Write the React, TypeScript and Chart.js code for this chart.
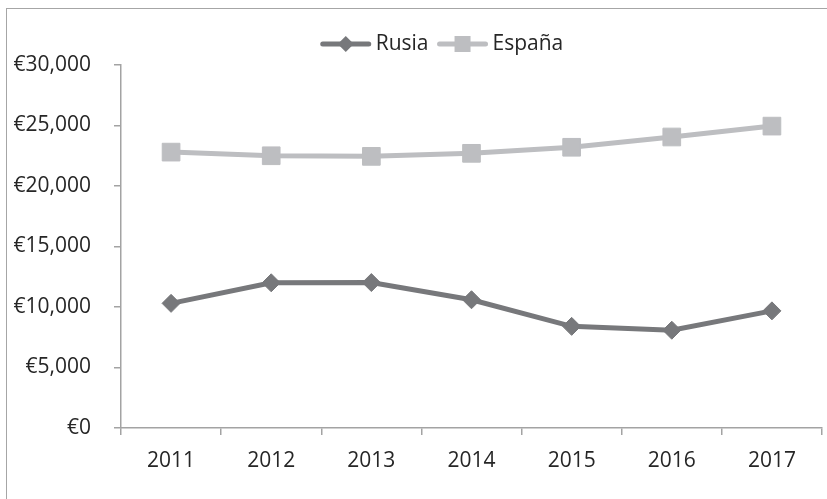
import React, { useEffect, useRef } from "react";
import { Chart, registerables } from "chart.js";

Chart.register(...registerables);

const years = ["2011", "2012", "2013", "2014", "2015", "2016", "2017"];
const rusia = [10300, 12000, 12020, 10600, 8400, 8080, 9680];
const espana = [22800, 22500, 22450, 22700, 23200, 24050, 24950];
const seriesNames = ["Rusia", "España"];
const yMin = 0;
const yMax = 30000;
const yStep = 5000;

const FONT = "'Open Sans', 'Liberation Sans', sans-serif";
const TEXT = "#262626";
const AXIS = "#a3a3a3";
const DARK = "#77787b";
const LIGHT = "#bdbec1";

const legendPlugin = {
  id: "excelLegend",
  afterDraw(chart: any) {
    const ctx = chart.ctx;
    ctx.save();
    ctx.font = `21px ${FONT}`;
    ctx.textBaseline = "middle";
    const y = 44;
    const lineLen = 50;
    const gapText = 5;
    const gapItem = 9;
    const items = chart.data.datasets.map((ds: any) => ({
      ds,
      w: lineLen + gapText + ctx.measureText(ds.label).width,
    }));
    const total = items.reduce((a: number, it: any) => a + it.w, 0) + gapItem * (items.length - 1);
    let x = 442 - total / 2;
    items.forEach((it: any) => {
      const ds = it.ds;
      ctx.strokeStyle = ds.borderColor;
      ctx.lineWidth = 5;
      ctx.lineCap = "round";
      ctx.beginPath();
      ctx.moveTo(x + 2, y);
      ctx.lineTo(x + lineLen - 2, y);
      ctx.stroke();
      const cx = x + lineLen / 2;
      ctx.fillStyle = ds.pointBackgroundColor;
      ctx.beginPath();
      if (ds.pointStyle === "rectRot") {
        const r = 8;
        ctx.moveTo(cx - r, y);
        ctx.lineTo(cx, y - r);
        ctx.lineTo(cx + r, y);
        ctx.lineTo(cx, y + r);
        ctx.closePath();
      } else {
        const h = 8;
        ctx.rect(cx - h, y - h, 2 * h, 2 * h);
      }
      ctx.fill();
      ctx.fillStyle = TEXT;
      ctx.textAlign = "left";
      ctx.fillText(ds.label, x + lineLen + gapText, y);
      x += it.w + gapItem;
    });
    ctx.restore();
  },
};

export default function App() {
  const ref = useRef<HTMLCanvasElement>(null);
  useEffect(() => {
    if (!ref.current) return;
    const chart = new Chart(ref.current, {
      type: "line",
      data: {
        labels: years,
        datasets: [
          {
            label: seriesNames[0],
            data: rusia,
            borderColor: DARK,
            backgroundColor: DARK,
            pointBackgroundColor: DARK,
            pointBorderColor: DARK,
            borderWidth: 5,
            pointStyle: "rectRot",
            pointRadius: 9,
            pointBorderWidth: 1,
            tension: 0,
          },
          {
            label: seriesNames[1],
            data: espana,
            borderColor: LIGHT,
            backgroundColor: LIGHT,
            pointBackgroundColor: LIGHT,
            pointBorderColor: LIGHT,
            borderWidth: 5,
            pointStyle: "rect",
            pointRadius: 12.5,
            pointBorderWidth: 1,
            tension: 0,
          },
        ],
      },
      options: {
        responsive: false,
        animation: false,
        layout: { autoPadding: false, padding: { left: 0, right: 5, top: 65, bottom: 0 } },
        plugins: {
          legend: { display: false },
          tooltip: { enabled: false },
          title: { display: false },
        },
        scales: {
          x: {
            offset: true,
            grid: {
              offset: true,
              drawOnChartArea: false,
              drawTicks: true,
              tickLength: 7,
              color: AXIS,
              lineWidth: 1.5,
            },
            border: { color: AXIS, width: 1.5 },
            ticks: {
              color: TEXT,
              font: { family: FONT, size: 21 },
              padding: 13,
              maxRotation: 0,
            },
            afterFit: (scale: any) => {
              scale.height = 71;
              scale.paddingLeft = 0;
              scale.paddingRight = 0;
            },
          },
          y: {
            min: yMin,
            max: yMax,
            grid: {
              drawOnChartArea: false,
              drawTicks: true,
              tickLength: 7,
              color: AXIS,
              lineWidth: 1.5,
            },
            border: { color: AXIS, width: 1.5 },
            ticks: {
              stepSize: yStep,
              color: TEXT,
              font: { family: FONT, size: 21 },
              padding: 23,
              callback: (v: any) => "€" + Number(v).toLocaleString("en-US"),
            },
            afterFit: (scale: any) => {
              scale.width = 121;
            },
          },
        },
      },
      plugins: [legendPlugin],
    });
    return () => chart.destroy();
  }, []);

  return (
    <div style={{ position: "absolute", left: 0, top: 0, width: 827, height: 499, overflow: "hidden", background: "#fff" }}>
      <div
        style={{
          position: "absolute",
          left: 6,
          top: 8,
          width: 900,
          height: 600,
          border: "1.5px solid #a6a6a6",
        }}
      />
      <canvas ref={ref} width={827} height={499} style={{ position: "absolute", left: 0, top: 0 }} />
    </div>
  );
}
